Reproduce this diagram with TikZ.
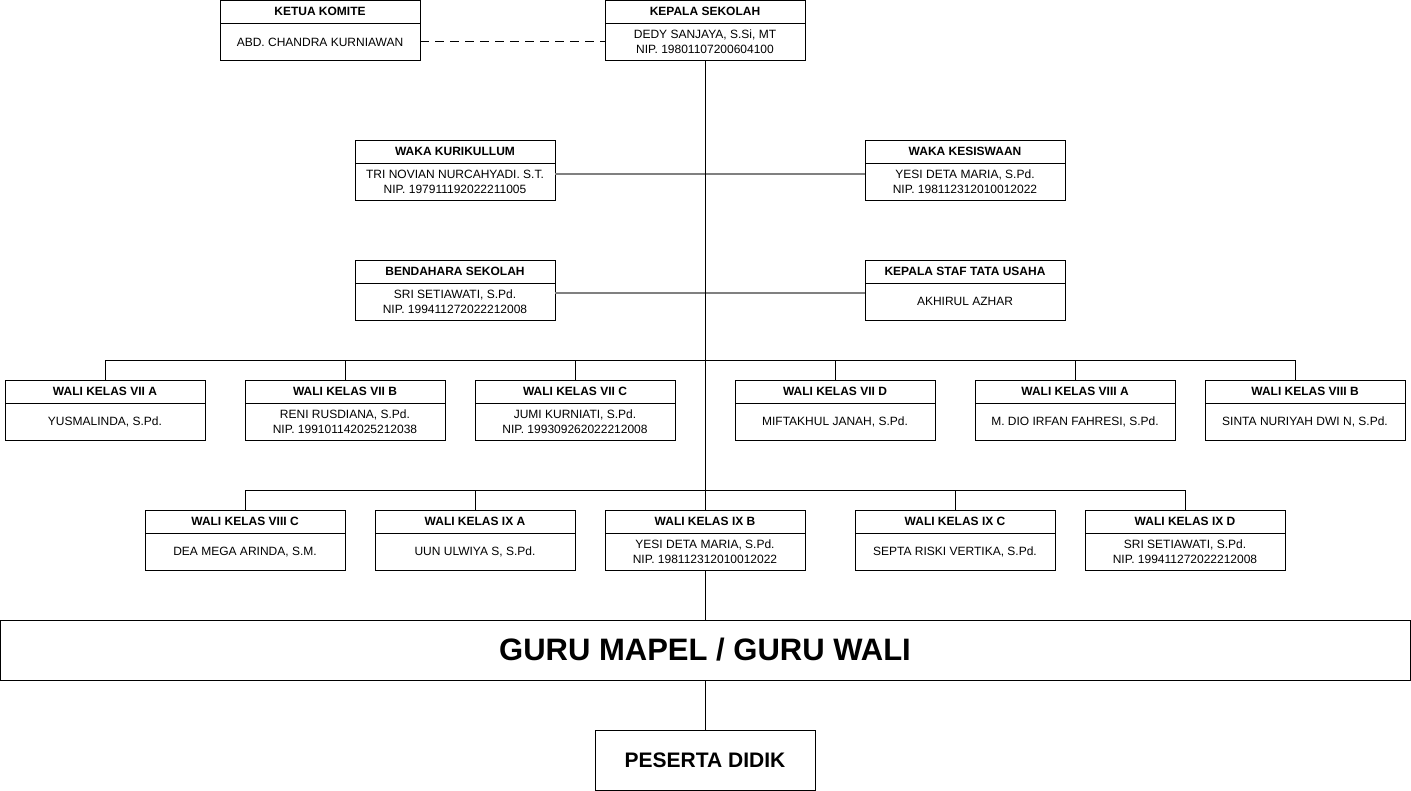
\documentclass[tikz,border=0pt]{standalone}
\usepackage{fontspec}
\setmainfont{Liberation Sans}
\usetikzlibrary{positioning}
\definecolor{orgline}{HTML}{000000}
\definecolor{orggrey}{HTML}{808080}
% one position: header band with the title, body below it
\newcommand{\jabatan}[5]{%
  \node[hd] (#1-h) at (#2,#3+11.5) {#4};
  \node[bd, below=0pt of #1-h] (#1) {#5};}

\begin{document}
\begin{tikzpicture}[
  x=1pt, y=-1pt, font=\fontsize{12}{15}\selectfont,
  hd/.style={draw=orgline, fill=white, minimum width=200pt, minimum height=23pt, inner sep=0pt, font=\fontsize{12}{15}\selectfont\bfseries},
  bd/.style={draw=orgline, fill=white, minimum width=200pt, minimum height=37pt, inner sep=0pt, align=center},
  bigbox/.style={draw=orgline, fill=white, minimum height=60pt, inner sep=0pt, font=\bfseries},
  wire/.style={draw=orgline, line width=0.9pt},
  gline/.style={draw=orggrey, line width=2pt},
  dline/.style={wire, dash pattern=on 9pt off 6pt},
]
  \useasboundingbox (0,0) rectangle (1411,791);
  % top
  \jabatan{ketua}{320}{0}{KETUA KOMITE}{ABD. CHANDRA KURNIAWAN}
  \jabatan{kepsek}{705}{0}{KEPALA SEKOLAH}{DEDY SANJAYA, S.Si, MT\\NIP. 19801107200604100}
  \jabatan{wkur}{455}{140}{WAKA KURIKULLUM}{TRI NOVIAN NURCAHYADI. S.T.\\NIP. 197911192022211005}
  \jabatan{wkes}{965}{140}{WAKA KESISWAAN}{YESI DETA MARIA, S.Pd.\\NIP. 198112312010012022}
  \jabatan{bend}{455}{260}{BENDAHARA SEKOLAH}{SRI SETIAWATI, S.Pd.\\NIP. 199411272022212008}
  \jabatan{tu}{965}{260}{KEPALA STAF TATA USAHA}{AKHIRUL AZHAR}
  % wali kelas, first row
  \jabatan{viia}{105}{380}{WALI KELAS VII A}{YUSMALINDA, S.Pd.}
  \jabatan{viib}{345}{380}{WALI KELAS VII B}{RENI RUSDIANA, S.Pd.\\NIP. 199101142025212038}
  \jabatan{viic}{575}{380}{WALI KELAS VII C}{JUMI KURNIATI, S.Pd.\\NIP. 199309262022212008}
  \jabatan{viid}{835}{380}{WALI KELAS VII D}{MIFTAKHUL JANAH, S.Pd.}
  \jabatan{viiia}{1075}{380}{WALI KELAS VIII A}{M. DIO IRFAN FAHRESI, S.Pd.}
  \jabatan{viiib}{1305}{380}{WALI KELAS VIII B}{SINTA NURIYAH DWI N, S.Pd.}
  % wali kelas, second row
  \jabatan{viiic}{245}{510}{WALI KELAS VIII C}{DEA MEGA ARINDA, S.M.}
  \jabatan{ixa}{475}{510}{WALI KELAS IX A}{UUN ULWIYA S, S.Pd.}
  \jabatan{ixb}{705}{510}{WALI KELAS IX B}{YESI DETA MARIA, S.Pd.\\NIP. 198112312010012022}
  \jabatan{ixc}{955}{510}{WALI KELAS IX C}{SEPTA RISKI VERTIKA, S.Pd.}
  \jabatan{ixd}{1185}{510}{WALI KELAS IX D}{SRI SETIAWATI, S.Pd.\\NIP. 199411272022212008}
  % bottom
  \node[bigbox, minimum width=1410pt, font=\fontsize{31}{36}\selectfont\bfseries] (guru) at (705,650) {GURU MAPEL / GURU WALI};
  \node[bigbox, minimum width=220pt, font=\fontsize{21}{24}\selectfont\bfseries] (didik) at (705,760) {PESERTA DIDIK};
  % connectors
  \coordinate (bus1) at (705,360);
  \coordinate (bus2) at (705,490);
  \draw[gline] ([yshift=7.5pt]wkur.east) -- ([yshift=7.5pt]wkes.west);
  \draw[gline] ([yshift=8.5pt]bend.east) -- ([yshift=8.5pt]tu.west);
  \draw[dline] (ketua.east) -- (kepsek.west);
  \draw[wire] (kepsek.south) -- (ixb-h.north);
  \foreach \n in {viia,viib,viic,viid,viiia} \draw[wire] (\n-h.north) |- (bus1);
  \draw[wire] ([xshift=-10pt]viiib-h.north) |- (bus1);
  \foreach \n in {viiic,ixa,ixc,ixd} \draw[wire] (\n-h.north) |- (bus2);
  \draw[wire] (ixb.south) -- (guru.north);
  \draw[wire] (guru.south) -- (didik.north);
\end{tikzpicture}
\end{document}
